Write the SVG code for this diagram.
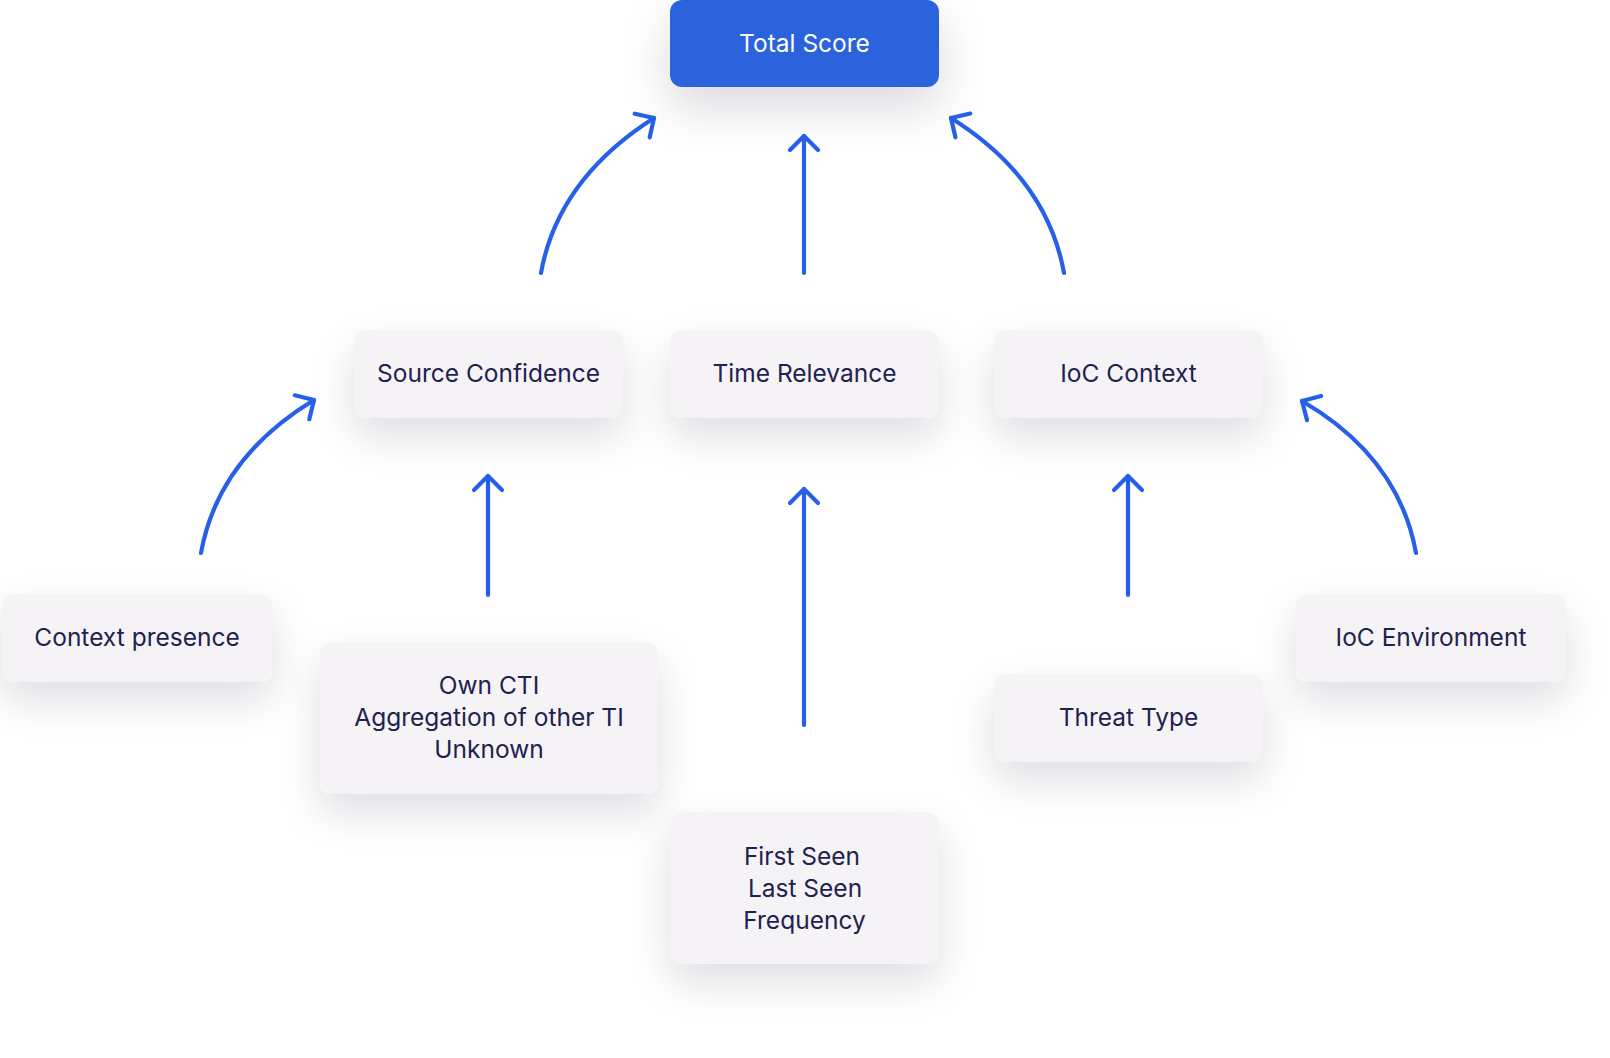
<svg xmlns="http://www.w3.org/2000/svg" width="1610" height="1058" viewBox="0 0 1610 1058">
  <defs>
    <filter id="shadow" x="-40%" y="-50%" width="180%" height="230%">
      <feDropShadow dx="0" dy="18" stdDeviation="20" flood-color="#1a1a2e" flood-opacity="0.13"/>
    </filter>
    <filter id="shadowBlue" x="-40%" y="-50%" width="180%" height="260%">
      <feDropShadow dx="0" dy="20" stdDeviation="24" flood-color="#1a1a2e" flood-opacity="0.15"/>
    </filter>
    <marker id="arrow" markerUnits="userSpaceOnUse" viewBox="-18 -16 22 32" refX="0" refY="0" markerWidth="22" markerHeight="32" orient="auto" overflow="visible">
      <path d="M-14,-14 L0,0 L-14,14" fill="none" stroke="#2760e8" stroke-width="4.2" stroke-linecap="round" stroke-linejoin="round"/>
    </marker>
  </defs>
  <style>
    .box { fill: #f5f3f5; filter: url(#shadow); }
    .main { fill: #2c64dc; filter: url(#shadowBlue); }
    .lbl { font-family: Inter, "Liberation Sans", sans-serif; font-size: 24.5px; fill: #1f2150; text-anchor: middle; }
    .lblw { font-family: Inter, "Liberation Sans", sans-serif; font-size: 24.5px; fill: #ffffff; text-anchor: middle; }
    .conn { fill: none; stroke: #2760e8; stroke-width: 4.2; stroke-linecap: round; marker-end: url(#arrow); }
  </style>
  <rect width="1610" height="1058" fill="#ffffff"/>

  <g id="connectors">
    <path class="conn" d="M541,273 C552,212 588,160 654,118"/>
    <path class="conn" d="M804,273 L804,136"/>
    <path class="conn" d="M1064,273 C1053,212 1018,160 951,118"/>
    <path class="conn" d="M201,553 C212,492 248,440 314,400"/>
    <path class="conn" d="M488,595 L488,476"/>
    <path class="conn" d="M804,725 L804,489"/>
    <path class="conn" d="M1128,595 L1128,476"/>
    <path class="conn" d="M1416,553 C1405,492 1369,440 1302,401"/>
  </g>

  <g id="node-total-score">
    <rect class="main" x="670" y="0" width="269" height="87" rx="12"/>
    <text class="lblw" x="804.5" y="52">Total Score</text>
  </g>
  <g id="node-source-confidence">
    <rect class="box" x="354" y="330" width="269" height="88" rx="12"/>
    <text class="lbl" x="488.5" y="382">Source Confidence</text>
  </g>
  <g id="node-time-relevance">
    <rect class="box" x="670" y="330" width="269" height="88" rx="12"/>
    <text class="lbl" x="804.5" y="382">Time Relevance</text>
  </g>
  <g id="node-ioc-context">
    <rect class="box" x="994" y="330" width="269" height="88" rx="12"/>
    <text class="lbl" x="1128.5" y="382">IoC Context</text>
  </g>
  <g id="node-context-presence">
    <rect class="box" x="2" y="594" width="270" height="88" rx="12"/>
    <text class="lbl" x="137" y="646">Context presence</text>
  </g>
  <g id="node-own-cti">
    <rect class="box" x="320" y="642" width="338" height="152" rx="12"/>
    <text class="lbl" x="489" y="694">Own CTI</text>
    <text class="lbl" x="489" y="726">Aggregation of other TI</text>
    <text class="lbl" x="489" y="758">Unknown</text>
  </g>
  <g id="node-first-seen">
    <rect class="box" x="670" y="812" width="269" height="152" rx="12"/>
    <text class="lbl" x="802" y="865">First Seen</text>
    <text class="lbl" x="805" y="897">Last Seen</text>
    <text class="lbl" x="804.5" y="929">Frequency</text>
  </g>
  <g id="node-threat-type">
    <rect class="box" x="994" y="674" width="269" height="88" rx="12"/>
    <text class="lbl" x="1128.5" y="726">Threat Type</text>
  </g>
  <g id="node-ioc-environment">
    <rect class="box" x="1296" y="594" width="270" height="88" rx="12"/>
    <text class="lbl" x="1431" y="646">IoC Environment</text>
  </g>
</svg>
